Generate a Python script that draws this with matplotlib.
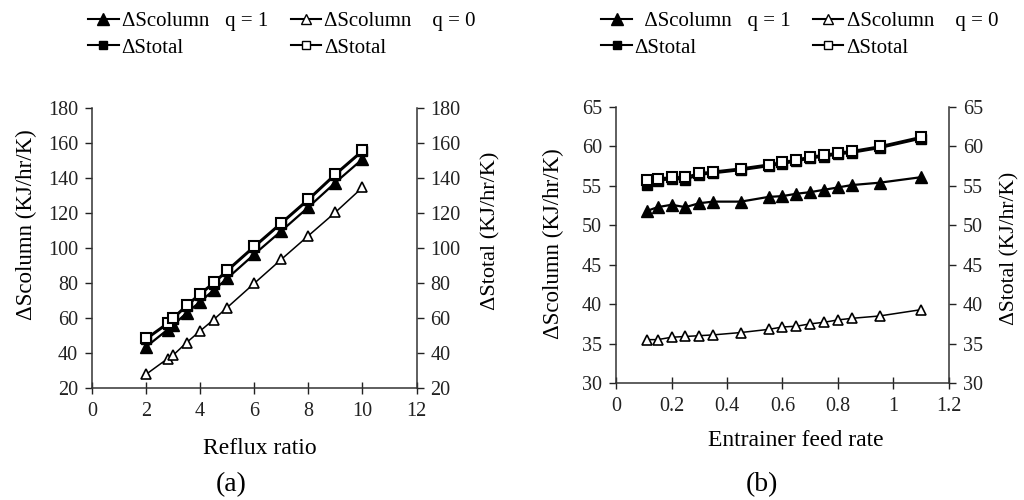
import numpy as np
import matplotlib.pyplot as plt
from matplotlib.lines import Line2D

plt.rcParams['font.family'] = ['Liberation Serif', 'DejaVu Serif']

# (a) reflux ratio
reflux = [2, 2.8, 3, 3.5, 4, 4.5, 5, 6, 7, 8, 9, 10]
a_col_q1 = [43.5, 53.4, 55.9, 62.9, 69.3, 75.9, 82.6, 96.4, 109.7, 123.3, 137.4, 150.8]
a_tot_q1 = [47.8, 56.6, 59.5, 66.8, 73.4, 79.7, 86.8, 100.5, 113.9, 127.4, 141.8, 155.2]
a_col_q0 = [27.8, 36.8, 38.7, 46.0, 52.6, 59.1, 66.0, 79.8, 93.5, 107.0, 120.4, 134.6]
a_tot_q0 = [48.3, 57.2, 60.1, 67.4, 74.0, 80.3, 87.4, 101.1, 114.5, 128.0, 142.4, 155.8]

# (b) entrainer feed rate
feed = [0.11, 0.15, 0.2, 0.25, 0.3, 0.35, 0.45, 0.55, 0.6, 0.65, 0.7, 0.75, 0.8, 0.85, 0.95, 1.1]
b_col_q1 = [51.8, 52.3, 52.6, 52.3, 52.8, 53.0, 53.0, 53.6, 53.7, 54.0, 54.2, 54.5, 54.8, 55.1, 55.4, 56.1]
b_tot_q1 = [55.1, 55.6, 55.9, 55.8, 56.4, 56.6, 57.0, 57.5, 57.8, 58.1, 58.5, 58.7, 59.0, 59.2, 59.8, 61.0]
b_col_q0 = [35.5, 35.5, 35.8, 35.9, 36.0, 36.1, 36.4, 36.8, 37.1, 37.2, 37.5, 37.7, 38.0, 38.2, 38.5, 39.3]
b_tot_q0 = [55.7, 55.9, 56.1, 56.1, 56.6, 56.8, 57.2, 57.7, 58.0, 58.3, 58.7, 58.9, 59.2, 59.4, 60.0, 61.2]

fig = plt.figure(figsize=(10.24, 5), dpi=100)

def style(ax, twin):
    for a in (ax, twin):
        a.spines['top'].set_visible(False)
        for s in a.spines.values():
            s.set_linewidth(1.1)
            s.set_color('#333333')
        a.tick_params(labelsize=14.5, colors='#222222', length=5, width=1, pad=5)
    ax.tick_params(axis='x', direction='inout', length=8, pad=6)
    ax.spines['right'].set_visible(False)
    twin.spines['left'].set_visible(False)
    twin.spines['bottom'].set_visible(False)

def plot_set(ax, x, col1, tot1, col0, tot0):
    kw = dict(color='black', lw=1.6)
    ax.plot(x, tot1, marker='s', ms=7, mfc='black', mec='black', **kw)
    ax.plot(x, col1, marker='^', ms=8.5, mfc='black', mec='black', **kw)
    ax.plot(x, col0, marker='^', ms=7.5, mfc='white', mec='black', mew=1.2, lw=1.1, color='black')
    ax.plot(x, tot0, marker='s', ms=7.5, mfc='white', mec='black', mew=1.5, **kw)

# panel (a)
ax1 = fig.add_axes([0.0898, 0.224, 0.317, 0.560])
plot_set(ax1, reflux, a_col_q1, a_tot_q1, a_col_q0, a_tot_q0)
ax1.set_xlim(0, 12)
ax1.set_ylim(20, 180)
ax1.set_xticks(np.arange(0, 13, 2))
ax1.set_yticks(np.arange(20, 181, 20))
ax1.set_xlabel('Reflux ratio', fontsize=17)
ax1.xaxis.set_label_coords(0.517, -0.18)
ax1.set_ylabel('ΔScolumn (KJ/hr/K)', fontsize=16.5)
ax1.yaxis.set_label_coords(-0.17, 0.585)
t1 = ax1.twinx()
t1.set_ylim(20, 180)
t1.set_yticks(np.arange(20, 181, 20))
t1.set_ylabel('ΔStotal (KJ/hr/K)', fontsize=16)
t1.yaxis.set_label_coords(1.20, 0.56)
style(ax1, t1)
fig.text(0.2256, 0.03, '(a)', fontsize=20, ha='center', va='center')

# panel (b)
ax2 = fig.add_axes([0.6016, 0.234, 0.325, 0.552])
plot_set(ax2, feed, b_col_q1, b_tot_q1, b_col_q0, b_tot_q0)
ax2.set_xlim(0, 1.2)
ax2.set_ylim(30, 65)
ax2.set_xticks([0, 0.2, 0.4, 0.6, 0.8, 1, 1.2])
ax2.set_xticklabels(['0', '0.2', '0.4', '0.6', '0.8', '1', '1.2'])
ax2.set_yticks(np.arange(30, 66, 5))
ax2.set_xlabel('Entrainer feed rate', fontsize=17)
ax2.xaxis.set_label_coords(0.54, -0.17)
ax2.set_ylabel('ΔScolumn (KJ/hr/K)', fontsize=16.5)
ax2.yaxis.set_label_coords(-0.155, 0.504)
t2 = ax2.twinx()
t2.set_ylim(30, 65)
t2.set_yticks(np.arange(30, 66, 5))
t2.set_ylabel('ΔStotal (KJ/hr/K)', fontsize=15.5)
t2.yaxis.set_label_coords(1.155, 0.486)
style(ax2, t2)
fig.text(0.744, 0.03, '(b)', fontsize=20, ha='center', va='center')

# legends
def handles():
    h_c1 = Line2D([], [], color='black', lw=1.5, marker='^', ms=8, mfc='black')
    h_t1 = Line2D([], [], color='black', lw=1.5, marker='s', ms=6, mfc='black')
    h_c0 = Line2D([], [], color='black', lw=1.5, marker='^', ms=7, mfc='white')
    h_t0 = Line2D([], [], color='black', lw=1.5, marker='s', ms=6, mfc='white')
    return [h_c1, h_t1, h_c0, h_t0]

fig.legend(handles(), ['ΔScolumn   q = 1', 'ΔStotal', 'ΔScolumn    q = 0', 'ΔStotal'],
           loc='upper left', bbox_to_anchor=(0.068, 1.015), ncol=2, frameon=False,
           fontsize=15, handlelength=1.45, handletextpad=0.15, columnspacing=1.1,
           labelspacing=0.35)
fig.legend(handles(), ['  ΔScolumn   q = 1', 'ΔStotal', 'ΔScolumn    q = 0', 'ΔStotal'],
           loc='upper left', bbox_to_anchor=(0.569, 1.015), ncol=2, frameon=False,
           fontsize=15, handlelength=1.45, handletextpad=0.15, columnspacing=1.1,
           labelspacing=0.35)

fig.savefig('out.png', dpi=100)
